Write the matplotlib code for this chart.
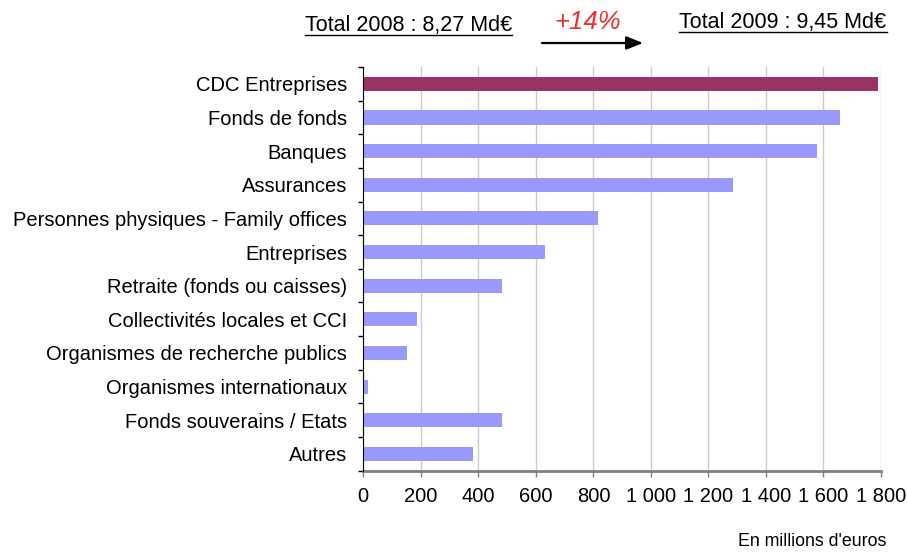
import matplotlib
matplotlib.use("Agg")
import matplotlib.pyplot as plt
from matplotlib.lines import Line2D

plt.rcParams['font.family'] = ['Liberation Sans', 'DejaVu Sans']

categories = ["CDC Entreprises", "Fonds de fonds", "Banques", "Assurances",
              "Personnes physiques - Family offices", "Entreprises",
              "Retraite (fonds ou caisses)", "Collectivités locales et CCI",
              "Organismes de recherche publics", "Organismes internationaux",
              "Fonds souverains / Etats", "Autres"]
values = [1789, 1657, 1576, 1285, 815, 631, 481, 186, 151, 15, 481, 381]
colors = ["#993366"] + ["#9999FF"] * 11
xticks = [0, 200, 400, 600, 800, 1000, 1200, 1400, 1600, 1800]
xticklabels = ["0", "200", "400", "600", "800", "1 000", "1 200", "1 400", "1 600", "1 800"]

W, H = 907, 552
fig = plt.figure(figsize=(W / 100, H / 100), dpi=100)
left, right, top, bottom = 363.3, 881, 67, 470.7
ax = fig.add_axes([left / W, 1 - bottom / H, (right - left) / W, (bottom - top) / H])

n = len(categories)
pos = list(range(n))
ax.barh(pos, values, height=0.42, color=colors, zorder=3)
ax.set_ylim(n - 0.5, -0.5)
ax.set_xlim(0, 1800)
ax.set_yticks(pos)
ax.set_yticklabels(categories, fontsize=14.5)
ax.set_yticks([i - 0.5 for i in range(n + 1)], minor=True)
ax.tick_params(axis='y', which='major', length=0, pad=11.5)
ax.tick_params(axis='y', which='minor', length=3.6, width=1, color='black')
ax.set_xticks(xticks)
ax.set_xticklabels(xticklabels, fontsize=14.5)
ax.tick_params(axis='x', length=4, width=1, color='#808080', direction='out', pad=8)
ax.grid(axis='x', color='#CCCCCC', linewidth=1, zorder=0)
for s in ['top', 'right']:
    ax.spines[s].set_visible(False)
ax.spines['left'].set_color('black')
ax.spines['left'].set_zorder(4)
ax.spines['bottom'].set_color('#808080')
ax.spines['bottom'].set_linewidth(2)

fig.text(886 / W, 1 - 542 / H, "En millions d'euros", fontsize=12.8, ha='right', va='center')

t1 = fig.text(408.5 / W, 1 - 31 / H, "Total 2008 : 8,27 Md€", fontsize=15.5, ha='center', va='baseline')
t2 = fig.text(783 / W, 1 - 28 / H, "Total 2009 : 9,45 Md€", fontsize=15.5, ha='center', va='baseline')
fig.text(588 / W, 1 - 29 / H, "+14%", fontsize=18.5, color='#E8302A', style='italic', ha='center', va='baseline')
ax.annotate("", xy=(643 / W, 1 - 43 / H), xytext=(542 / W, 1 - 43 / H),
            xycoords='figure fraction', textcoords='figure fraction',
            arrowprops=dict(arrowstyle='-|>,head_length=1.0,head_width=0.4', color='black', lw=1.6,
                            shrinkA=0, shrinkB=0))

fig.canvas.draw()
r = fig.canvas.get_renderer()
for t, yu in ((t1, 35), (t2, 32)):
    bb = t.get_window_extent(renderer=r)
    y = 1 - yu / H
    fig.add_artist(Line2D([bb.x0 / W, bb.x1 / W], [y, y], color='black', lw=1,
                          transform=fig.transFigure))

fig.savefig("out.png", dpi=100)
